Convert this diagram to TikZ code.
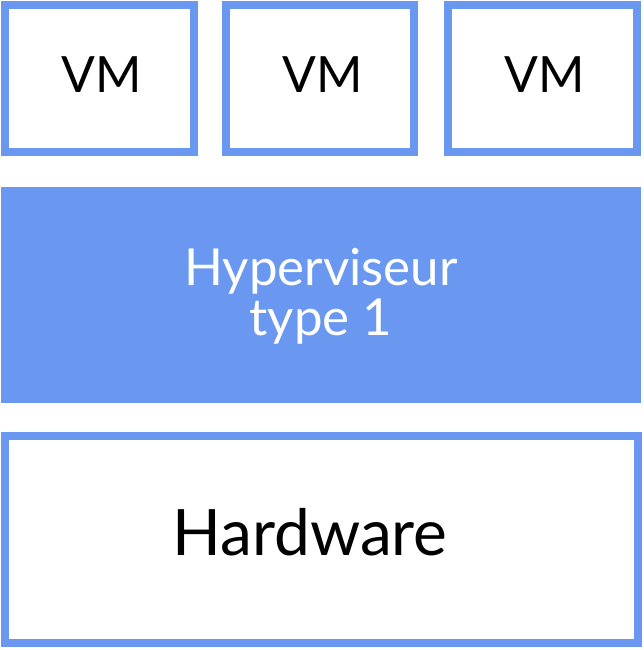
\documentclass[tikz,border=0pt]{standalone}
\usepackage{fontspec}
\setmainfont{Lato}
\definecolor{vmblue}{RGB}{106,152,240}
\begin{document}
\begin{tikzpicture}[x=1pt,y=-1pt,
  framebox/.style={draw=vmblue,line width=8.5pt,fill=white},
  vmtext/.style={font=\fontsize{50}{60}\selectfont,inner sep=0pt}]
\useasboundingbox (0,0) rectangle (643,650);
\draw[framebox] (5,5) rectangle (194,152);
\draw[framebox] (226,5) rectangle (414,152);
\draw[framebox] (448,5) rectangle (637,152);
\fill[vmblue] (1,187) rectangle (641,403);
\draw[framebox] (5,436) rectangle (638,643);
\node[vmtext] (vm1) at (102,75) {VM};
\node[vmtext] (vm2) at (323,75) {VM};
\node[vmtext] (vm3) at (545,75) {VM};
\node[font=\fontsize{51}{50}\selectfont,text=white,align=center,inner sep=0pt] (hyp) at (321,296) {Hyperviseur\\type 1};
\node[font=\fontsize{64}{70}\selectfont,inner sep=0pt] (hw) at (310,532) {Hardware};
\end{tikzpicture}
\end{document}
